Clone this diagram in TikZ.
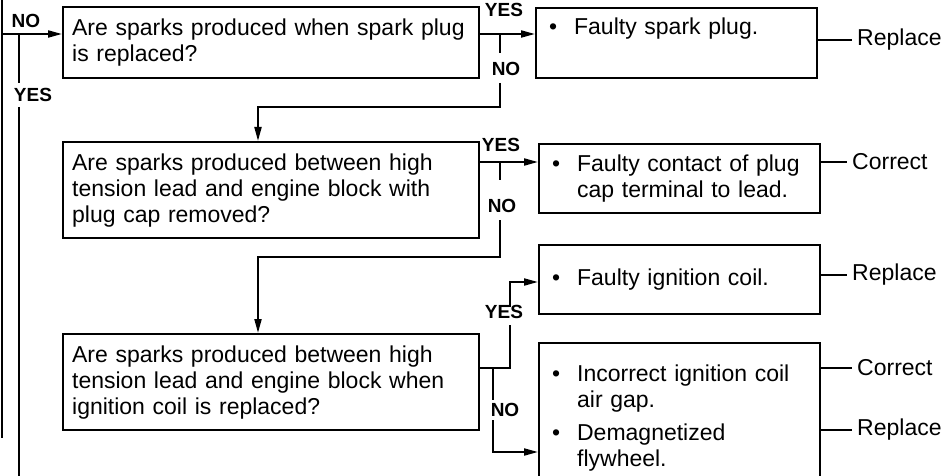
\documentclass[tikz,border=0pt]{standalone}
\usepackage{fontspec}
\setmainfont{Liberation Sans}
\usetikzlibrary{arrows.meta}
\newcommand{\bitem}[1]{\makebox[25pt][l]{\textbullet}\parbox[t]{230pt}{#1}}

\begin{document}
\begin{tikzpicture}[x=1pt, y=-1pt, >={Triangle[length=14pt,width=7pt]},
  line/.style={line width=2pt},
  box/.style={draw, line width=2.3pt, anchor=north west, inner ysep=0pt, align=left,
    font=\fontsize{23}{26}\selectfont},
  qbox/.style={box, inner xsep=9pt, text width=398pt, minimum width=416pt},
  abox/.style={box, inner xsep=13pt, text width=255pt, minimum width=281pt},
  yn/.style={font=\fontsize{19}{20}\selectfont\bfseries, inner sep=0pt},
  act/.style={font=\fontsize{23}{26}\selectfont, anchor=west, inner xsep=5pt}]
  \useasboundingbox (0,0) rectangle (947,476);
  \clip (0,0) rectangle (947,476);
  % questions
  \node[qbox, minimum height=71pt] (q1) at (62,6) {Are sparks produced when spark plug\\ is replaced?};
  \node[qbox, minimum height=96pt] (q2) at (62,141) {Are sparks produced between high\\ tension lead and engine block with\\ plug cap removed?};
  \node[qbox, minimum height=96pt] (q3) at (62,333) {Are sparks produced between high\\ tension lead and engine block when\\ ignition coil is replaced?};
  % causes
  \node[abox, minimum height=70pt] (a1) at (535,7) {\bitem{Faulty spark plug.\\ \strut}};
  \node[abox, minimum height=69pt] (a2) at (538,143) {\bitem{Faulty contact of plug\\ cap terminal to lead.}};
  \node[abox, minimum height=69pt] (a3) at (538,244) {\bitem{Faulty ignition coil.}};
  \node[abox, minimum height=150pt] (a4) at (538,342) {\bitem{Incorrect ignition coil\\ air gap.}\\[10pt]\bitem{Demagnetized\\ flywheel.}};
  % remedies
  \node[act] (r1) at (852,40) {Replace};
  \node[act] (c2) at (847,162) {Correct};
  \node[act] (r3) at (847,275) {Replace};
  \node[act] (c4) at (852,368) {Correct};
  \node[act] (r4) at (852,430) {Replace};
  \draw[line] (r1.west -| a1.east) -- (r1.west);
  \draw[line] (c2.west -| a2.east) -- (c2.west);
  \draw[line] (r3.west -| a3.east) -- (r3.west);
  \draw[line] (c4.west -| a4.east) -- (c4.west);
  \draw[line] (r4.west -| a4.east) -- (r4.west);
  % YES / NO labels
  \node[yn] (no0) at (26,21) {NO};
  \node[yn] (yes0) at (33,95) {YES};
  \node[yn] (yes1) at (504,10) {YES};
  \node[yn] (no1) at (506,69) {NO};
  \node[yn] (yes2) at (501,145) {YES};
  \node[yn] (no2) at (502,206) {NO};
  \node[yn] (yes3) at (504,312) {YES};
  \node[yn] (no3) at (505,410) {NO};
  % left feed lines
  \coordinate (topL) at (2,-5);
  \coordinate (inL) at (2,34);
  \coordinate (endL) at (2,438);
  \coordinate (yL) at (19,34);
  \coordinate (gLa) at (19,83);
  \coordinate (gLb) at (19,107);
  \coordinate (botY) at (19,485);
  \draw[line] (topL) -- (endL);
  \draw[line,->] (inL) -- (inL -| q1.west);
  \draw[line] (yL) -- (gLa);
  \draw[line] (gLb) -- (botY);
  % first question
  \coordinate (j1) at (500,34);
  \coordinate (g1a) at (500,53);
  \coordinate (g1b) at (500,83);
  \coordinate (k1) at (258,107);
  \draw[line,->] (j1 -| q1.east) -- (j1 -| a1.west);
  \draw[line] (j1) -- (g1a);
  \draw[line,->] (g1b) |- (k1) -- (k1 |- q2.north);
  % second question
  \coordinate (j2) at (500,162);
  \coordinate (g2a) at (500,180);
  \coordinate (g2b) at (500,220);
  \coordinate (k2) at (258,257);
  \draw[line,->] (j2 -| q2.east) -- (j2 -| a2.west);
  \draw[line] (j2) -- (g2a);
  \draw[line,->] (g2b) |- (k2) -- (k2 |- q3.north);
  % third question
  \coordinate (j3) at (510,368);
  \coordinate (g3a) at (510,325);
  \coordinate (g3b) at (510,307);
  \coordinate (y3) at (510,282);
  \coordinate (n3) at (493,368);
  \coordinate (g4a) at (493,400);
  \coordinate (g4b) at (493,420);
  \coordinate (y4) at (493,452);
  \draw[line] (j3 -| q3.east) -- (j3) -- (g3a);
  \draw[line,->] (g3b) -- (y3) -- (y3 -| a3.west);
  \draw[line] (n3) -- (g4a);
  \draw[line,->] (g4b) -- (y4) -- (y4 -| a4.west);
\end{tikzpicture}
\end{document}
